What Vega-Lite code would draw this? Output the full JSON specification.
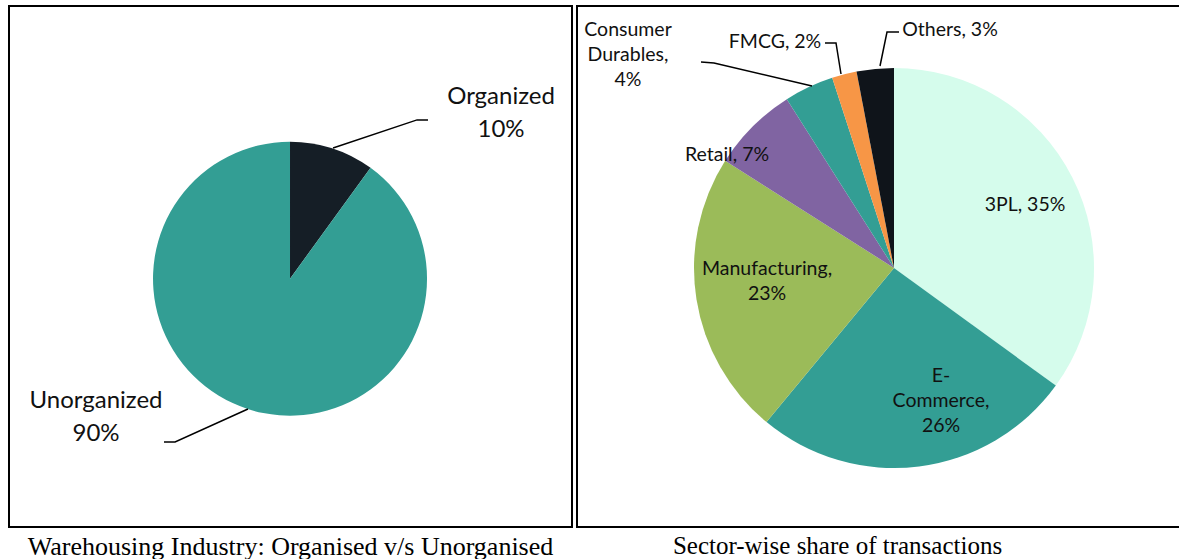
{
  "$schema": "https://vega.github.io/schema/vega-lite/v6.json",
  "padding": {"left": 8, "top": 5, "right": 0, "bottom": 0},
  "background": "white",
  "spacing": 3,
  "resolve": {"scale": {"color": "independent"}},
  "config": {
    "view": {"stroke": "#000", "strokeWidth": 2},
    "title": {"font": "Liberation Serif", "fontSize": 25, "fontWeight": "normal", "color": "#000", "orient": "bottom", "offset": 7}
  },
  "datasets": {
    "left": [
      {"cat": "Organized", "share": 10, "ord": 1},
      {"cat": "Unorganized", "share": 90, "ord": 2}
    ],
    "leftLabels": [
      {"label": "Organized", "text": "Organized\n10%", "x": 1.54, "y": 1.326},
      {"label": "Unorganized", "text": "Unorganized\n90%", "x": -1.416, "y": -0.893}
    ],
    "leftLeaders": [
      {"label": "Organized", "pt": 1, "x": 0.314, "y": 0.954},
      {"label": "Organized", "pt": 2, "x": 0.927, "y": 1.159},
      {"label": "Organized", "pt": 3, "x": 1.007, "y": 1.159},
      {"label": "Unorganized", "pt": 1, "x": -0.307, "y": -0.951},
      {"label": "Unorganized", "pt": 2, "x": -0.839, "y": -1.192},
      {"label": "Unorganized", "pt": 3, "x": -0.92, "y": -1.192}
    ],
    "right": [
      {"sector": "3PL", "share": 35, "ord": 1},
      {"sector": "E-Commerce", "share": 26, "ord": 2},
      {"sector": "Manufacturing", "share": 23, "ord": 3},
      {"sector": "Retail", "share": 7, "ord": 4},
      {"sector": "Consumer Durables", "share": 4, "ord": 5},
      {"sector": "FMCG", "share": 2, "ord": 6},
      {"sector": "Others", "share": 3, "ord": 7}
    ],
    "rightLabels": [
      {"label": "3PL", "text": "3PL, 35%", "x": 0.655, "y": 0.315},
      {"label": "E-Commerce", "text": "E-\nCommerce,\n26%", "x": 0.235, "y": -0.54},
      {"label": "Manufacturing", "text": "Manufacturing,\n23%", "x": -0.635, "y": -0.005},
      {"label": "Retail", "text": "Retail, 7%", "x": -0.835, "y": 0.565},
      {"label": "Consumer Durables", "text": "Consumer\nDurables,\n4%", "x": -1.33, "y": 1.19},
      {"label": "FMCG", "text": "FMCG, 2%", "x": -0.595, "y": 1.13},
      {"label": "Others", "text": "Others, 3%", "x": 0.28, "y": 1.19}
    ],
    "rightLeaders": [
      {"label": "Consumer Durables", "pt": 1, "x": -0.965, "y": 1.03},
      {"label": "Consumer Durables", "pt": 2, "x": -0.9, "y": 1.025},
      {"label": "Consumer Durables", "pt": 3, "x": -0.41, "y": 0.91},
      {"label": "FMCG", "pt": 1, "x": -0.345, "y": 1.125},
      {"label": "FMCG", "pt": 2, "x": -0.29, "y": 1.125},
      {"label": "FMCG", "pt": 3, "x": -0.265, "y": 0.97},
      {"label": "Others", "pt": 1, "x": 0.025, "y": 1.18},
      {"label": "Others", "pt": 2, "x": -0.035, "y": 1.18},
      {"label": "Others", "pt": 3, "x": -0.07, "y": 1.01}
    ]
  },
  "hconcat": [
    {
      "width": 563,
      "height": 521,
      "title": {"text": "Warehousing Industry: Organised v/s Unorganised", "fontSize": 26},
      "layer": [
        {
          "data": {"name": "left"},
          "mark": {"type": "arc", "outerRadius": 137},
          "encoding": {
            "theta": {"field": "share", "type": "quantitative", "stack": true},
            "order": {"field": "ord", "type": "quantitative"},
            "color": {"field": "cat", "type": "nominal", "scale": {"domain": ["Organized", "Unorganized"], "range": ["#151E26", "#339E94"]}, "legend": null},
            "x": {"datum": 0, "type": "quantitative", "scale": {"domain": [-2.051, 2.058], "nice": false, "zero": false}, "axis": null},
            "y": {"datum": 0, "type": "quantitative", "scale": {"domain": [-1.812, 1.99], "nice": false, "zero": false}, "axis": null}
          }
        },
        {
          "data": {"name": "leftLeaders"},
          "mark": {"type": "line", "color": "#000", "strokeWidth": 1.5},
          "encoding": {
            "x": {"field": "x", "type": "quantitative", "axis": null},
            "y": {"field": "y", "type": "quantitative", "axis": null},
            "detail": {"field": "label"},
            "order": {"field": "pt", "type": "quantitative"}
          }
        },
        {
          "data": {"name": "leftLabels"},
          "mark": {"type": "text", "font": "Lato", "fontSize": 24, "lineBreak": "\n", "lineHeight": 33, "align": "center", "baseline": "middle", "color": "#111"},
          "encoding": {
            "x": {"field": "x", "type": "quantitative", "axis": null},
            "y": {"field": "y", "type": "quantitative", "axis": null},
            "text": {"field": "text"}
          }
        }
      ]
    },
    {
      "width": 605,
      "height": 521,
      "title": {"text": "Sector-wise share of transactions", "dx": -42},
      "layer": [
        {
          "data": {"name": "right"},
          "mark": {"type": "arc", "outerRadius": 200},
          "encoding": {
            "theta": {"field": "share", "type": "quantitative", "stack": true},
            "order": {"field": "ord", "type": "quantitative"},
            "color": {"field": "sector", "type": "nominal", "scale": {"domain": ["3PL", "E-Commerce", "Manufacturing", "Retail", "Consumer Durables", "FMCG", "Others"], "range": ["#D5FCEC", "#339E94", "#9BBB59", "#8064A2", "#339E94", "#F79646", "#0F141A"]}, "legend": null},
            "x": {"datum": 0, "type": "quantitative", "scale": {"domain": [-1.585, 1.44], "nice": false, "zero": false}, "axis": null},
            "y": {"datum": 0, "type": "quantitative", "scale": {"domain": [-1.295, 1.31], "nice": false, "zero": false}, "axis": null}
          }
        },
        {
          "data": {"name": "rightLeaders"},
          "mark": {"type": "line", "color": "#000", "strokeWidth": 1.5},
          "encoding": {
            "x": {"field": "x", "type": "quantitative", "axis": null},
            "y": {"field": "y", "type": "quantitative", "axis": null},
            "detail": {"field": "label"},
            "order": {"field": "pt", "type": "quantitative"}
          }
        },
        {
          "data": {"name": "rightLabels"},
          "mark": {"type": "text", "font": "Lato", "fontSize": 19.5, "lineBreak": "\n", "lineHeight": 25, "align": "center", "baseline": "middle", "color": "#111"},
          "encoding": {
            "x": {"field": "x", "type": "quantitative", "axis": null},
            "y": {"field": "y", "type": "quantitative", "axis": null},
            "text": {"field": "text"}
          }
        }
      ]
    }
  ]
}
